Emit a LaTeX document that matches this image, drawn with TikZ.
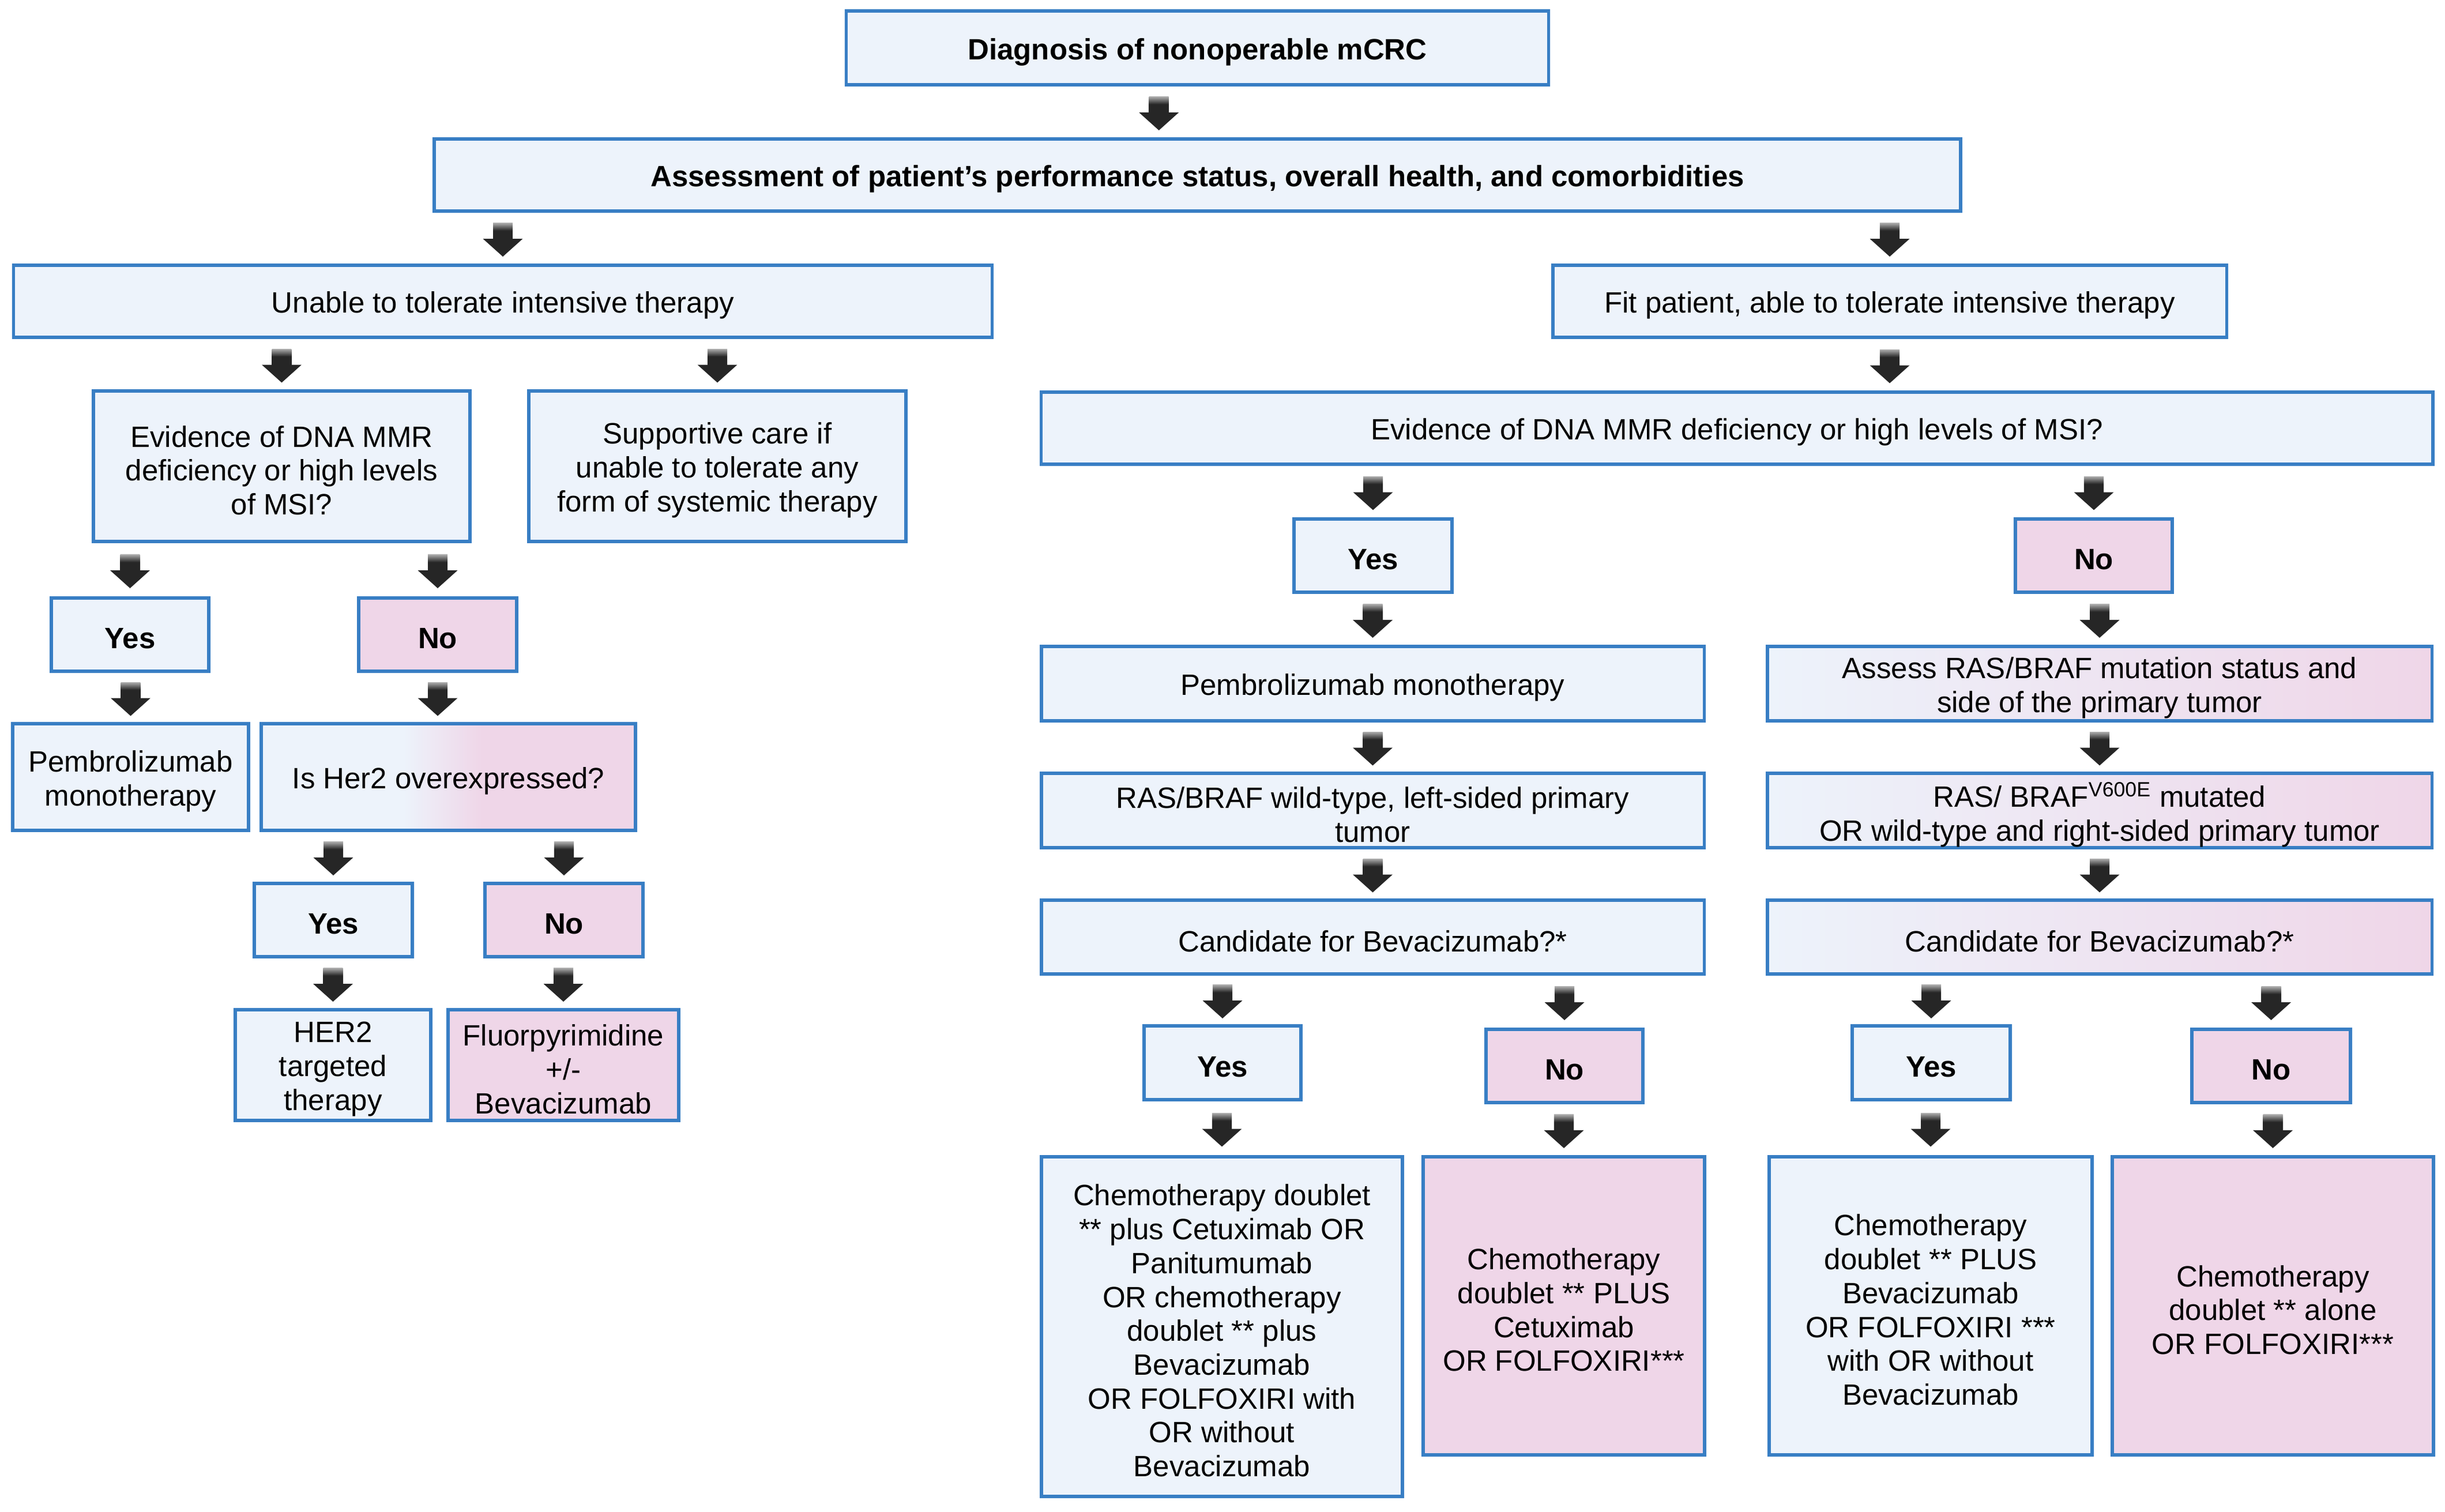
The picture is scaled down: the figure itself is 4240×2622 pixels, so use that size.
\documentclass[tikz,border=0pt]{standalone}
\usepackage{fontspec}
\setmainfont{Liberation Sans}
\usetikzlibrary{calc}
\definecolor{cblue}{RGB}{237,243,251}
\definecolor{cpink}{RGB}{239,214,232}
\definecolor{bordc}{RGB}{56,126,196}
\definecolor{arrdark}{RGB}{38,38,38}
\definecolor{arrtop}{RGB}{170,170,170}
\pgfdeclarehorizontalshading{bluepink}{100bp}{color(0bp)=(cblue); color(44bp)=(cblue); color(54.5bp)=(cpink); color(100bp)=(cpink)}
\pgfdeclareverticalshading{arrsh}{100bp}{color(0bp)=(arrdark); color(52bp)=(arrdark); color(75bp)=(arrtop); color(100bp)=(arrtop)}
\newcommand\boxfont{\fontsize{14.5}{16.7}\selectfont}
\newcommand\bx[7][]{%
  \node[basebox,#1,minimum width={(#5-#3)*0.28453pt},minimum height={(#6-#4)*0.28453pt}] (#2) at ({(#3+#5)/2},{(#4+#6)/2}) {};
  \node[txtnode] (#2t) at ([yshift=-2pt]#2.center) {#7};}
% \flow[x source]{parent}{child}
\newcommand\flow[3][]{%
  \def\xsrc{#1}\ifx\xsrc\empty\def\xsrc{#3.north}\fi
  \path let \p1=(\xsrc), \p3=(#3.north), \p2=(#2.south) in (\x1,{0.5*(\y3+\y2)-0.85pt}) coordinate (m#2#3);
  \shade[shading=arrsh] ([shift={(-4.83pt,8.25pt)}]m#2#3) rectangle ([shift={(4.83pt,0.3pt)}]m#2#3);
  \fill[arrdark] ([shift={(-9.8pt,0.55pt)}]m#2#3) -- ([shift={(9.8pt,0.55pt)}]m#2#3) -- ([shift={(0pt,-8.25pt)}]m#2#3) -- cycle;}
\tikzset{
  basebox/.style={draw=bordc, line width=1.6pt, inner sep=0pt},
  txtnode/.style={align=center, inner sep=0pt, font=\boxfont},
  bluebox/.style={fill=cblue},
  pinkbox/.style={fill=cpink},
  gradbox/.style={left color=cblue, right color=cpink},
  her2box/.style={shade, shading=bluepink}
}
\begin{document}
\begin{tikzpicture}[x=0.01cm,y=-0.01cm]
\fill[white] (0,0) rectangle (4240,2622);
\useasboundingbox (0,0) rectangle (4240,2622);
% boxes
\bx[bluebox]{diag}{1468}{19}{2685}{147}{\bfseries Diagnosis of nonoperable mCRC}
\bx[bluebox]{assess}{754}{241}{3399}{366}{\bfseries Assessment of patient’s performance status, overall health, and comorbidities}
\bx[bluebox]{unable}{24}{460}{1720}{585}{Unable to tolerate intensive therapy}
\bx[bluebox]{fit}{2693}{460}{3861}{585}{Fit patient, able to tolerate intensive therapy}
\bx[bluebox]{evL}{162}{678}{815}{939}{Evidence of DNA MMR\\deficiency or high levels\\of MSI?}
\bx[bluebox]{supp}{917}{678}{1571}{939}{Supportive care if\\unable to tolerate any\\form of systemic therapy}
\bx[bluebox]{evR}{1806}{680}{4218}{805}{Evidence of DNA MMR deficiency or high levels of MSI?}
\bx[bluebox]{yesL}{89}{1037}{362}{1164}{\bfseries Yes}
\bx[pinkbox]{noL}{622}{1037}{896}{1164}{\bfseries No}
\bx[bluebox]{pembL}{22}{1255}{431}{1440}{Pembrolizumab\\monotherapy}
\bx[her2box]{her2}{453}{1255}{1102}{1440}{Is Her2 overexpressed?}
\bx[bluebox]{yesH}{441}{1532}{715}{1659}{\bfseries Yes}
\bx[pinkbox]{noH}{841}{1532}{1115}{1659}{\bfseries No}
\bx[bluebox]{hert}{408}{1751}{747}{1943}{HER2\\targeted\\therapy}
\bx[pinkbox]{fluor}{777}{1751}{1177}{1943}{Fluorpyrimidine\\+/-\\Bevacizumab}
\bx[bluebox]{yesR}{2244}{900}{2518}{1027}{\bfseries Yes}
\bx[pinkbox]{noR}{3495}{900}{3767}{1027}{\bfseries No}
\bx[bluebox]{pembR}{1806}{1121}{2955}{1250}{Pembrolizumab monotherapy}
\bx[gradbox]{assessR}{3065}{1121}{4217}{1250}{Assess RAS/BRAF mutation status and\\side of the primary tumor}
\bx[bluebox]{wildR}{1806}{1341}{2955}{1470}{RAS/BRAF wild-type, left-sided primary\\tumor}
\bx[gradbox]{mutR}{3065}{1341}{4217}{1470}{RAS/ BRAF\textsuperscript{V600E} mutated\\OR wild-type and right-sided primary tumor}
\bx[bluebox]{candL}{1806}{1561}{2955}{1689}{Candidate for Bevacizumab?*}
\bx[gradbox]{candR}{3065}{1561}{4217}{1689}{Candidate for Bevacizumab?*}
\bx[bluebox]{yesCa}{1984}{1779}{2256}{1907}{\bfseries Yes}
\bx[pinkbox]{noCa}{2577}{1785}{2849}{1912}{\bfseries No}
\bx[bluebox]{yesCb}{3212}{1779}{3486}{1907}{\bfseries Yes}
\bx[pinkbox]{noCb}{3801}{1785}{4076}{1912}{\bfseries No}
\bx[bluebox]{chemoa}{1806}{2006}{2432}{2595}{Chemotherapy doublet\\** plus Cetuximab OR\\Panitumumab\\OR chemotherapy\\doublet ** plus\\Bevacizumab\\OR FOLFOXIRI with\\OR without\\Bevacizumab}
\bx[pinkbox]{chemob}{2468}{2006}{2956}{2523}{Chemotherapy\\doublet ** PLUS\\Cetuximab\\OR FOLFOXIRI***}
\bx[bluebox]{chemoc}{3068}{2006}{3628}{2523}{Chemotherapy\\doublet ** PLUS\\Bevacizumab\\OR FOLFOXIRI ***\\with OR without\\Bevacizumab}
\bx[pinkbox]{chemod}{3663}{2006}{4220}{2523}{Chemotherapy\\doublet ** alone\\OR FOLFOXIRI***}
% connectors
\coordinate (diagx) at ([xshift=-19pt]diag.south);
\flow[diagx]{diag}{assess}
\flow{assess}{unable}
\flow{assess}{fit}
\flow{unable}{evL}
\flow{unable}{supp}
\flow[fit.south]{fit}{evR}
\flow{evL}{yesL}
\flow{evL}{noL}
\flow{yesL}{pembL}
\flow[noL.south]{noL}{her2}
\flow{her2}{yesH}
\flow{her2}{noH}
\flow{yesH}{hert}
\flow{noH}{fluor}
\flow{evR}{yesR}
\flow{evR}{noR}
\flow{yesR}{pembR}
\flow{noR}{assessR}
\flow{pembR}{wildR}
\flow{assessR}{mutR}
\flow{wildR}{candL}
\flow{mutR}{candR}
\flow{candL}{yesCa}
\flow{candL}{noCa}
\flow{yesCa}{chemoa}
\flow{noCa}{chemob}
\flow{candR}{yesCb}
\flow{candR}{noCb}
\flow{yesCb}{chemoc}
\flow{noCb}{chemod}
\end{tikzpicture}
\end{document}
